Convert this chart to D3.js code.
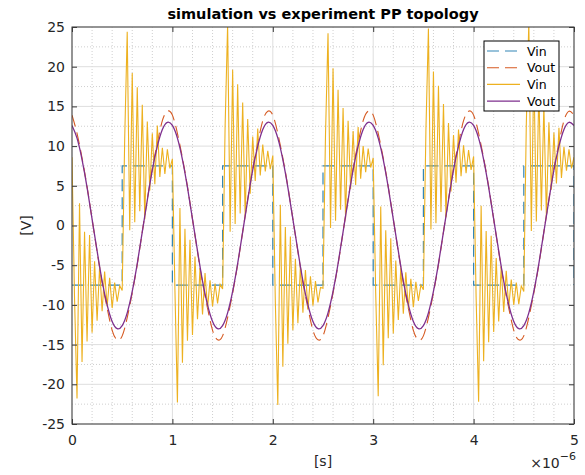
<!DOCTYPE html>
<html>
<head>
<meta charset="utf-8">
<script src="https://cdn.jsdelivr.net/npm/d3@7"></script>
<style>
  html, body { margin: 0; padding: 0; background: #fff; }
  svg { display: block; font-family: "DejaVu Sans", sans-serif; }
</style>
</head>
<body>
<svg id="chart" width="585" height="475"></svg>
<script>
// ── Data (time in µs, voltage in V) ───────────────────────────────────────────

const xTicks = [0, 1, 2, 3, 4, 5];
const yTicks = [-25, -20, -15, -10, -5, 0, 5, 10, 15, 20, 25];

// simulated input: square wave, level held from each time to the next
const vinSimT = [0, 0.5, 1, 1.5, 2, 2.5, 3, 3.5, 4, 4.5, 5];
const vinSimV = [-7.5, 7.5, -7.5, 7.5, -7.5, 7.5, -7.5, 7.5, -7.5, 7.5, -7.5];

// outputs, one sample every 0.05 µs
const voutStep = 0.05;
const voutSim = [
  13.9, 11.6, 8.5, 4.9, 0.8, -3.3, -7.2, -10.4, -13.2, -14.4, -13.9, -11.6, -8.5, -4.9, -0.8, 3.3, 7.2, 10.4, 13.2, 14.4,
  13.9, 11.6, 8.5, 4.9, 0.8, -3.3, -7.2, -10.4, -13.2, -14.4, -13.9, -11.6, -8.5, -4.9, -0.8, 3.3, 7.2, 10.4, 13.2, 14.4,
  13.9, 11.6, 8.5, 4.9, 0.8, -3.3, -7.2, -10.4, -13.2, -14.4, -13.9, -11.6, -8.5, -4.9, -0.8, 3.3, 7.2, 10.4, 13.2, 14.4,
  13.9, 11.6, 8.5, 4.9, 0.8, -3.3, -7.2, -10.4, -13.2, -14.4, -13.9, -11.6, -8.5, -4.9, -0.8, 3.3, 7.2, 10.4, 13.2, 14.4,
  13.9, 11.6, 8.5, 4.9, 0.8, -3.3, -7.2, -10.4, -13.2, -14.4, -13.9, -11.6, -8.5, -4.9, -0.8, 3.3, 7.2, 10.4, 13.2, 14.4,
  13.9
];
const voutExp = [
  12.6, 11.0, 8.3, 4.8, 0.8, -3.2, -7.0, -10.0, -12.1, -13.0, -12.6, -11.0, -8.3, -4.8, -0.8, 3.2, 7.0, 10.0, 12.1, 13.0,
  12.6, 11.0, 8.3, 4.8, 0.8, -3.2, -7.0, -10.0, -12.1, -13.0, -12.6, -11.0, -8.3, -4.8, -0.8, 3.2, 7.0, 10.0, 12.1, 13.0,
  12.6, 11.0, 8.3, 4.8, 0.8, -3.2, -7.0, -10.0, -12.1, -13.0, -12.6, -11.0, -8.3, -4.8, -0.8, 3.2, 7.0, 10.0, 12.1, 13.0,
  12.6, 11.0, 8.3, 4.8, 0.8, -3.2, -7.0, -10.0, -12.1, -13.0, -12.6, -11.0, -8.3, -4.8, -0.8, 3.2, 7.0, 10.0, 12.1, 13.0,
  12.6, 11.0, 8.3, 4.8, 0.8, -3.2, -7.0, -10.0, -12.1, -13.0, -12.6, -11.0, -8.3, -4.8, -0.8, 3.2, 7.0, 10.0, 12.1, 13.0,
  12.6
];

// measured input with ringing, one sample every 0.025 µs
const vinExpStep = 0.025;
const vinExp = [
  8.6, -9, -21.8, 2.8, -17.2, -0.8, -14.6, -1.2, -13.5, -4.5, -12, -5.2, -10.8, -5.8, -10.2, -6.6, -10.4, -7.2, -9.6, -7.6,
  -8.2, 11, 24.4, -0.6, 19.2, 0.4, 17.4, 1.8, 15.2, 0.8, 13.1, 4.4, 11.6, 5.2, 12.6, 6.1, 9.8, 6.5, 9.6, 7.2,
  8.4, -8, -22.3, 2.2, -17.3, -0.4, -14.5, -1.8, -13.8, -3.9, -11.8, -5.4, -11.2, -6, -10.4, -6.9, -10.2, -7.3, -9.8, -7.4,
  -8, 12.5, 25.3, -0.8, 19.6, 0.2, 17.8, 1.5, 15.5, 1.2, 13.4, 4, 11.2, 5.6, 12.2, 6.3, 10.2, 6.8, 9.4, 7.1,
  8.8, -9.5, -22.6, 2.6, -17.8, -0.2, -14.9, -1.4, -13.2, -4.2, -12.3, -5, -11, -5.6, -10.6, -6.4, -10.1, -7, -9.7, -7.8,
  -7.9, 11.5, 24.2, -0.3, 19.8, 0.6, 17.1, 2, 14.8, 0.9, 13.2, 4.6, 11.9, 5.1, 12.4, 5.9, 10, 6.7, 9.7, 7.3,
  8.5, -8.5, -21.5, 2.4, -17.6, -0.6, -14.2, -1.6, -13.6, -4.4, -11.9, -5.3, -11.1, -5.9, -10.5, -6.7, -10.3, -7.1, -9.5, -7.5,
  -8.1, 12, 24.8, -0.5, 19.4, 0.3, 17.6, 1.7, 15.3, 1, 12.9, 4.3, 11.4, 5.4, 12.1, 6.2, 10.1, 6.6, 9.5, 7,
  8.7, -9, -22.2, 2.5, -17.1, -0.7, -14.7, -1.3, -13.4, -4.1, -12.1, -5.1, -10.9, -5.7, -10.3, -6.8, -10, -7.2, -9.9, -7.6,
  -8.3, 12.8, 25.6, -0.7, 19.9, 0.5, 17.3, 1.9, 15.1, 1.1, 13, 4.5, 11.7, 5.3, 12.3, 6, 9.9, 6.9, 9.6, 7.2,
  8.6
];

const legendLabels = ['Vin', 'Vout', 'Vin', 'Vout'];

// ── Layout ────────────────────────────────────────────────────────────────────

const plot = { left: 72, right: 574, top: 27, bottom: 424 };
const colors = { vinSim: '#3386b6', voutSim: '#d65a22', vinExp: '#EDB120', voutExp: '#7E2F8E' };
const axisColor = '#3a3a3a';

const svg = d3.select('#chart');

const x = d3.scaleLinear().domain([0, 5]).range([plot.left, plot.right]);
const y = d3.scaleLinear().domain([-25, 25]).range([plot.bottom, plot.top]);

svg.append('defs').append('clipPath').attr('id', 'plot-clip')
  .append('rect')
  .attr('x', plot.left).attr('y', plot.top)
  .attr('width', plot.right - plot.left).attr('height', plot.bottom - plot.top);

// ── Grid ──────────────────────────────────────────────────────────────────────

const grid = svg.append('g').attr('class', 'grid');

const xMinor = d3.range(0, 5.001, 0.2).filter(v => Math.abs(v - Math.round(v)) > 1e-6);
const yMinor = d3.range(-22.5, 25, 5);

grid.selectAll('.xminor').data(xMinor).join('line')
  .attr('x1', d => x(d)).attr('x2', d => x(d))
  .attr('y1', plot.top).attr('y2', plot.bottom)
  .attr('stroke', '#cfcfcf').attr('stroke-dasharray', '1,2');
grid.selectAll('.yminor').data(yMinor).join('line')
  .attr('y1', d => y(d)).attr('y2', d => y(d))
  .attr('x1', plot.left).attr('x2', plot.right)
  .attr('stroke', '#cfcfcf').attr('stroke-dasharray', '1,2');

grid.selectAll('.xmajor').data(xTicks).join('line')
  .attr('x1', d => x(d)).attr('x2', d => x(d))
  .attr('y1', plot.top).attr('y2', plot.bottom)
  .attr('stroke', '#dedede');
grid.selectAll('.ymajor').data(yTicks).join('line')
  .attr('y1', d => y(d)).attr('y2', d => y(d))
  .attr('x1', plot.left).attr('x2', plot.right)
  .attr('stroke', '#dedede');

// ── Series ────────────────────────────────────────────────────────────────────

const series = svg.append('g').attr('clip-path', 'url(#plot-clip)');

const toPoints = (vals, step) => vals.map((v, i) => ({ t: i * step, v }));
const line = d3.line().x(d => x(d.t)).y(d => y(d.v));

series.append('path')
  .datum(vinSimT.map((t, i) => ({ t, v: vinSimV[i] })))
  .attr('d', line.curve(d3.curveStepAfter))
  .attr('fill', 'none').attr('stroke', colors.vinSim)
  .attr('stroke-width', 1.2).attr('stroke-dasharray', '12,6');

series.append('path')
  .datum(toPoints(voutSim, voutStep))
  .attr('d', line.curve(d3.curveNatural))
  .attr('fill', 'none').attr('stroke', colors.voutSim)
  .attr('stroke-width', 1.1).attr('stroke-dasharray', '12,6');

series.append('path')
  .datum(toPoints(vinExp, vinExpStep))
  .attr('d', line.curve(d3.curveLinear))
  .attr('fill', 'none').attr('stroke', colors.vinExp)
  .attr('stroke-width', 1.1);

series.append('path')
  .datum(toPoints(voutExp, voutStep))
  .attr('d', line.curve(d3.curveNatural))
  .attr('fill', 'none').attr('stroke', colors.voutExp)
  .attr('stroke-width', 1.3);

// ── Axes ──────────────────────────────────────────────────────────────────────

function styleAxis(g) {
  g.select('.domain').remove();
  g.selectAll('.tick line').attr('stroke', axisColor);
  g.selectAll('.tick text').attr('fill', '#262626').style('font-size', '14px')
    .style('font-family', '"DejaVu Sans", sans-serif');
}

svg.append('g').attr('transform', `translate(0,${plot.bottom})`)
  .call(d3.axisBottom(x).tickValues(xTicks).tickSize(-5).tickPadding(11).tickFormat(d => String(d)))
  .call(styleAxis);
svg.append('g').attr('transform', `translate(0,${plot.top})`)
  .call(d3.axisTop(x).tickValues(xTicks).tickSize(-5).tickFormat(''))
  .call(styleAxis);
svg.append('g').attr('transform', `translate(${plot.left},0)`)
  .call(d3.axisLeft(y).tickValues(yTicks).tickSize(-5).tickPadding(7).tickFormat(d => String(d)))
  .call(styleAxis);
svg.append('g').attr('transform', `translate(${plot.right},0)`)
  .call(d3.axisRight(y).tickValues(yTicks).tickSize(-5).tickFormat(''))
  .call(styleAxis);

svg.append('rect')
  .attr('x', plot.left).attr('y', plot.top)
  .attr('width', plot.right - plot.left).attr('height', plot.bottom - plot.top)
  .attr('fill', 'none').attr('stroke', axisColor).attr('stroke-width', 1);

// ── Labels ────────────────────────────────────────────────────────────────────

svg.append('text')
  .attr('x', (plot.left + plot.right) / 2).attr('y', 19)
  .attr('text-anchor', 'middle')
  .style('font-size', '14.5px').style('font-weight', 'bold').attr('fill', '#000')
  .text('simulation vs experiment PP topology');

svg.append('text')
  .attr('x', (plot.left + plot.right) / 2).attr('y', 466)
  .attr('text-anchor', 'middle').style('font-size', '14px').attr('fill', '#262626')
  .text('[s]');

svg.append('text')
  .attr('transform', `translate(31,${(plot.top + plot.bottom) / 2}) rotate(-90)`)
  .attr('text-anchor', 'middle').style('font-size', '14px').attr('fill', '#262626')
  .text('[V]');

const expo = svg.append('text')
  .attr('x', 576).attr('y', 468)
  .attr('text-anchor', 'end').attr('fill', '#262626').style('font-size', '14px');
expo.append('tspan').text('×10');
expo.append('tspan').attr('dy', -8).style('font-size', '11px').text('−6');

// ── Legend ────────────────────────────────────────────────────────────────────

const legendStyles = [
  { color: colors.vinSim, dash: '12,6', width: 1.2 },
  { color: colors.voutSim, dash: '12,6', width: 1.1 },
  { color: colors.vinExp, dash: null, width: 1.1 },
  { color: colors.voutExp, dash: null, width: 1.3 }
];

const legend = svg.append('g').attr('transform', 'translate(484,41)');
legend.append('rect')
  .attr('width', 75).attr('height', 70)
  .attr('fill', '#fff').attr('stroke', '#000').attr('stroke-width', 1);

const rows = legend.selectAll('.row').data(legendLabels).join('g')
  .attr('transform', (d, i) => `translate(0,${10 + i * 16.7})`);
rows.append('line')
  .attr('x1', 3).attr('x2', 36).attr('y1', 0).attr('y2', 0)
  .attr('stroke', (d, i) => legendStyles[i].color)
  .attr('stroke-width', (d, i) => legendStyles[i].width)
  .attr('stroke-dasharray', (d, i) => legendStyles[i].dash);
rows.append('text')
  .attr('x', 43).attr('dy', '0.36em')
  .style('font-size', '12.5px').attr('fill', '#000')
  .text(d => d);
</script>
</body>
</html>
